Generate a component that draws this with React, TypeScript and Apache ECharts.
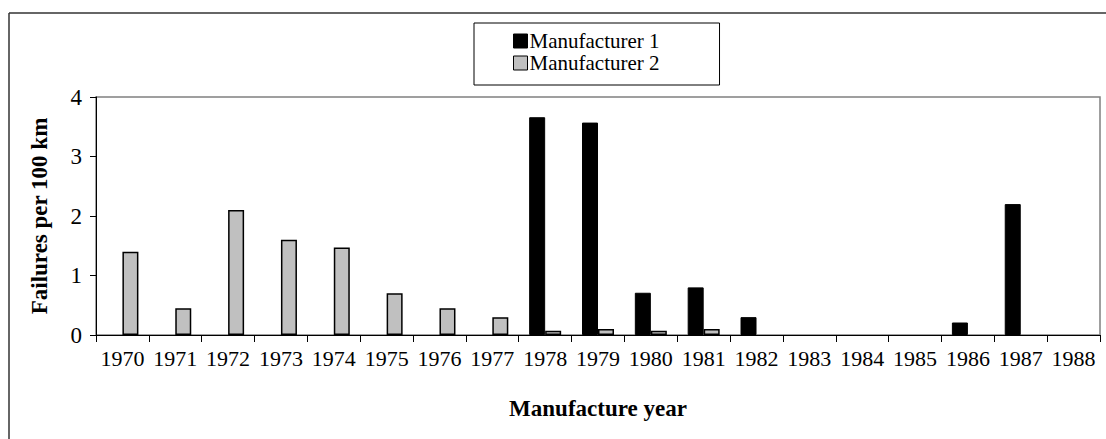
import React, { useEffect, useRef } from "react";
import * as echarts from "echarts";

const years = ["1970","1971","1972","1973","1974","1975","1976","1977","1978","1979","1980","1981","1982","1983","1984","1985","1986","1987","1988"];
const manufacturer1 = [null, null, null, null, null, null, null, null, 3.66, 3.57, 0.71, 0.8, 0.3, null, null, null, 0.21, 2.2, null];
const manufacturer2 = [1.4, 0.45, 2.1, 1.6, 1.47, 0.7, 0.45, 0.3, 0.07, 0.1, 0.07, 0.1, null, null, null, null, null, null, null];
const seriesNames = ["Manufacturer 1", "Manufacturer 2"];
const yTicks = [0, 1, 2, 3, 4];

const FONT = '"Times New Roman", "Liberation Serif", "DejaVu Serif", serif';

export default function App() {
  const ref = useRef<HTMLDivElement>(null);
  useEffect(() => {
    document.body.style.margin = "0";
    const chart = echarts.init(ref.current!, null, { renderer: "svg" });
    chart.setOption({
      animation: false,
      backgroundColor: "#ffffff",
      textStyle: { fontFamily: FONT },
      graphic: [
        { type: "line", shape: { x1: 9, y1: 13, x2: 1106, y2: 13 }, style: { stroke: "#333", lineWidth: 1.5 } },
        { type: "line", shape: { x1: 9, y1: 13, x2: 9, y2: 439 }, style: { stroke: "#333", lineWidth: 1.5 } },
      ],
      grid: {
        left: 96, right: 6, top: 97, bottom: 104,
        show: true, borderColor: "#808080", borderWidth: 1.5, backgroundColor: "transparent",
      },
      legend: {
        orient: "vertical",
        left: 474, top: 23,
        padding: [7, 60, 11, 39],
        itemGap: 0,
        itemWidth: 14, itemHeight: 14,
        itemStyle: { borderColor: "#000", borderWidth: 1 },
        icon: "rect",
        borderColor: "#000", borderWidth: 1,
        backgroundColor: "#fff",
        textStyle: { fontFamily: FONT, fontSize: 21, color: "#000", lineHeight: 22, padding: [0, 0, 0, -3] },
        data: seriesNames,
      },
      xAxis: {
        type: "category",
        data: years,
        name: "Manufacture year",
        nameLocation: "middle",
        nameGap: 62,
        nameTextStyle: { fontFamily: FONT, fontSize: 23, fontWeight: "bold", color: "#000" },
        axisLine: { lineStyle: { color: "#000", width: 1 } },
        axisTick: { show: true, length: 7, interval: 0, lineStyle: { color: "#000" } },
        axisLabel: { interval: 0, fontFamily: FONT, fontSize: 22, color: "#000", margin: 12 },
        splitLine: { show: false },
      },
      yAxis: {
        type: "value",
        min: yTicks[0], max: yTicks[yTicks.length - 1], interval: 1,
        name: "Failures per 100 km",
        nameLocation: "middle",
        nameGap: 45,
        nameTextStyle: { fontFamily: FONT, fontSize: 23, fontWeight: "bold", color: "#000" },
        axisLine: { show: true, lineStyle: { color: "#000", width: 1 } },
        axisTick: { show: true, length: 6, lineStyle: { color: "#000" } },
        axisLabel: { fontFamily: FONT, fontSize: 23, color: "#000", margin: 14 },
        splitLine: { show: false },
      },
      series: [
        {
          name: seriesNames[0], type: "bar", data: manufacturer1,
          barWidth: 16, barGap: "0%",
          itemStyle: { color: "#000000", borderColor: "#000", borderWidth: 1 },
        },
        {
          name: seriesNames[1], type: "bar", data: manufacturer2,
          barWidth: 16, barGap: "0%",
          itemStyle: { color: "#c0c0c0", borderColor: "#000", borderWidth: 1.5 },
        },
      ],
    });
    return () => chart.dispose();
  }, []);
  return <div ref={ref} style={{ width: 1106, height: 439 }} />;
}
